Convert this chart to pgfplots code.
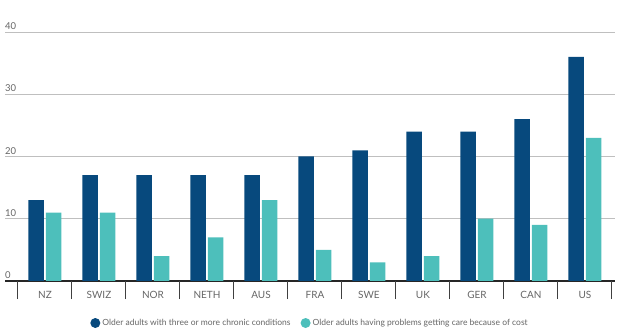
\documentclass[border=0pt]{standalone}
\usepackage{fontspec}
\setmainfont{Lato}
\usepackage{pgfplots}
\pgfplotsset{compat=1.18}
\definecolor{darkb}{HTML}{07497D}
\definecolor{tealc}{HTML}{4DBFBB}
\begin{document}
\begin{tikzpicture}
\begin{axis}[name=ax, at={(0,0)}, anchor=south west,
  width=610bp, height=249bp, scale only axis,
  xmin=-0.7407, xmax=10.556, ymin=0, ymax=40,
  ybar=2bp, bar width=15.5bp,
  axis x line*=bottom, axis y line*=left, axis line style={-},
  y axis line style={draw=none},
  x axis line style={draw=black!85, line width=1.3bp},
  ytick={0,10,20,30,40}, ymajorgrids, grid style={draw=gray!50, line width=0.9bp},
  ytick style={draw=none},
  /pgf/number format/assume math mode=true,
  yticklabel style={anchor=south west, inner sep=0pt, yshift=2bp, xshift=0bp,
    font=\fontsize{9.5bp}{10bp}\selectfont, text=black!60},
  xtick=data, xticklabels={NZ,SWIZ,NOR,NETH,AUS,FRA,SWE,UK,GER,CAN,US},
  xtick style={draw=none},
  xticklabel style={anchor=north, yshift=-6bp, inner sep=0pt,
    font=\fontsize{10bp}{11bp}\selectfont, text=black!60},
  extra x ticks={-0.5,0.5,1.5,2.5,3.5,4.5,5.5,6.5,7.5,8.5,9.5,10.5},
  extra x tick labels={},
  extra x tick style={xtick style={draw=black!75, line width=1bp}, major tick length=18bp, tick align=outside},
  legend columns=2,
  legend style={at={(0.5,-0.1687)}, anchor=center, draw=none,
    font=\fontsize{8.5bp}{10bp}\selectfont, text=black!60,
    /tikz/every even column/.append style={column sep=8bp}},
  legend cell align=left,
]
\addplot[fill=darkb, draw=none, legend image code/.code={\fill[darkb] (0bp,0bp) circle (5bp);}]
  coordinates {(0,13) (1,17) (2,17) (3,17) (4,17) (5,20) (6,21) (7,24) (8,24) (9,26) (10,36)};
\addplot[fill=tealc, draw=none, legend image code/.code={\fill[tealc] (0bp,0bp) circle (5bp);}]
  coordinates {(0,11) (1,11) (2,4) (3,7) (4,13) (5,5) (6,3) (7,4) (8,10) (9,9) (10,23)};
\legend{Older adults with three or more chronic conditions, Older adults having problems getting care because of cost}
\end{axis}
\pgfresetboundingbox
\path[use as bounding box] (ax.south west) ++(-5bp,-54bp) rectangle ++(634bp,335bp);
\end{tikzpicture}
\end{document}
